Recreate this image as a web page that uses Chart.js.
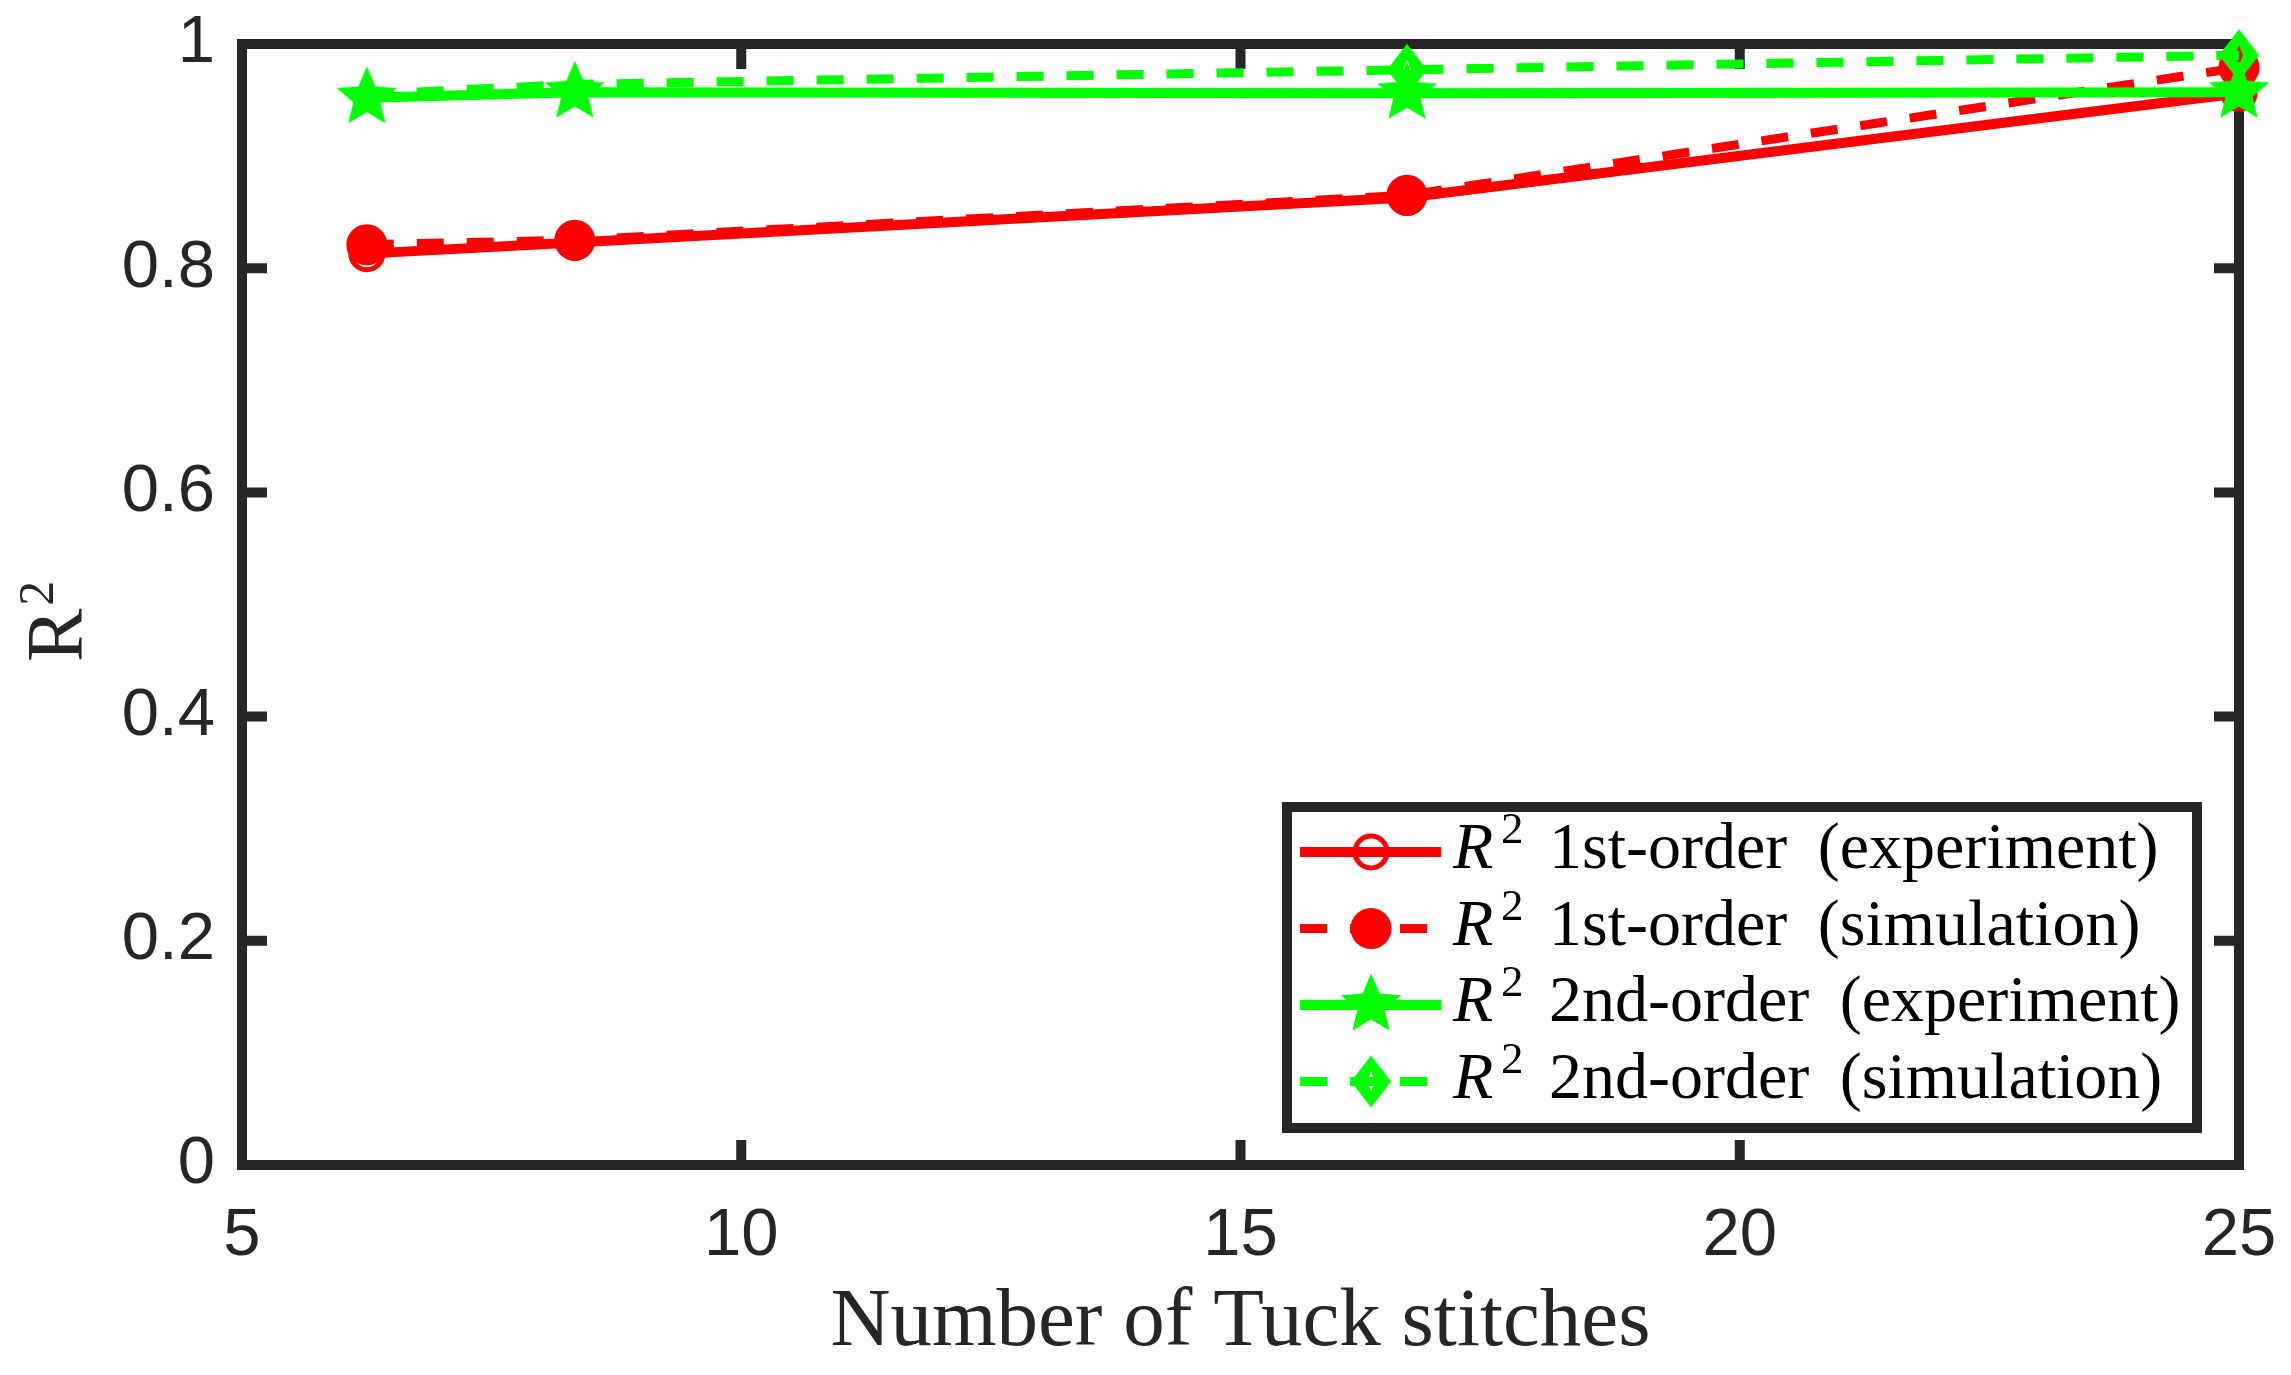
<!DOCTYPE html>
<html><head><meta charset="utf-8">
<script src="https://cdn.jsdelivr.net/npm/chart.js@4/dist/chart.umd.min.js"></script>
<style>html,body{margin:0;padding:0;background:#fff;}#wrap{width:2291px;height:1375px;position:relative;}</style>
</head><body><div id="wrap"><canvas id="c" width="2291" height="1375"></canvas></div>
<script>
// ---- data ----
const tuckStitches = [6.25, 8.333, 16.667, 25];
const r2FirstExp   = [0.813, 0.823, 0.863, 0.956];
const r2FirstSim   = [0.821, 0.825, 0.865, 0.979];
const r2SecondExp  = [0.952, 0.957, 0.956, 0.957];
const r2SecondSim  = [0.955, 0.964, 0.977, 0.990];
const seriesLabels = ['1st-order (experiment)', '1st-order (simulation)', '2nd-order (experiment)', '2nd-order (simulation)'];
const xTickValues = [5, 10, 15, 20, 25];
const yTickValues = [0, 0.2, 0.4, 0.6, 0.8, 1];
const xTitle = 'Number of Tuck stitches';
const yTitleMain = 'R';
const yTitleSup = '2';
const legendPrefix = 'R';
const legendSup = '2';

const RED = '#ff0000', GREEN = '#00ff00', AXIS = '#262626';

function makeStar(R, ratio, color) {
  const s = Math.ceil(R * 2 + 6);
  const c = document.createElement('canvas'); c.width = s; c.height = s;
  const g = c.getContext('2d');
  const cx = s / 2, cy = s / 2, r = R * ratio;
  g.beginPath();
  for (let i = 0; i < 10; i++) {
    const a = -Math.PI / 2 + i * Math.PI / 5;
    const rr = i % 2 ? r : R;
    g.lineTo(cx + rr * Math.cos(a), cy + rr * Math.sin(a));
  }
  g.closePath();
  g.fillStyle = color; g.fill();
  g.lineWidth = 2; g.strokeStyle = color; g.lineJoin = 'miter'; g.stroke();
  return c;
}
function makeDiamond(hw, hh, ihw, ihh, color) {
  const w = Math.ceil(hw * 2 + 4), h = Math.ceil(hh * 2 + 4);
  const c = document.createElement('canvas'); c.width = w; c.height = h;
  const g = c.getContext('2d');
  const cx = w / 2, cy = h / 2;
  g.beginPath();
  g.moveTo(cx, cy - hh); g.lineTo(cx + hw, cy); g.lineTo(cx, cy + hh); g.lineTo(cx - hw, cy); g.closePath();
  g.fillStyle = color; g.fill();
  g.globalCompositeOperation = 'destination-out';
  g.beginPath();
  g.moveTo(cx, cy - ihh); g.lineTo(cx + ihw, cy); g.lineTo(cx, cy + ihh); g.lineTo(cx - ihw, cy); g.closePath();
  g.fill();
  return c;
}
const starImg = makeStar(29, 0.45, GREEN);
const diamondImg = makeDiamond(20, 26, 4, 10, GREEN);

const pts = ys => tuckStitches.map((x, i) => ({ x: x, y: ys[i] }));

const datasets = [
  { label: seriesLabels[0], data: pts(r2FirstExp), borderColor: RED, borderWidth: 10,
    pointStyle: 'circle', pointRadius: 16, pointBorderWidth: 5, pointBorderColor: RED,
    pointBackgroundColor: 'rgba(0,0,0,0)', order: 4, clip: false, tension: 0 },
  { label: seriesLabels[1], data: pts(r2FirstSim), borderColor: RED, borderWidth: 9, borderDash: [27, 23],
    pointStyle: 'circle', pointRadius: 19, pointBorderWidth: 3, pointBorderColor: RED,
    pointBackgroundColor: RED, order: 3, clip: false, tension: 0 },
  { label: seriesLabels[2], data: pts(r2SecondExp), borderColor: GREEN, borderWidth: 10,
    pointStyle: starImg, pointRadius: 28, order: 2, clip: false, tension: 0 },
  { label: seriesLabels[3], data: pts(r2SecondSim), borderColor: GREEN, borderWidth: 9, borderDash: [27, 23],
    pointStyle: diamondImg, pointRadius: [0, 0, 24, 24], order: 1, clip: false, tension: 0 }
];
datasets.forEach(d => { d.borderCapStyle = 'butt'; d.borderJoinStyle = 'round'; d.fill = false; });

const framePlugin = {
  id: 'frame',
  beforeDatasetsDraw(chart) {
    const { ctx, chartArea: a, scales: { x, y } } = chart;
    ctx.save();
    ctx.strokeStyle = AXIS; ctx.lineWidth = 10; ctx.lineCap = 'butt'; ctx.lineJoin = 'miter';
    ctx.beginPath();
    const TL = 25;
    xTickValues.slice(1, -1).forEach(v => {
      const p = x.getPixelForValue(v);
      ctx.moveTo(p, a.bottom); ctx.lineTo(p, a.bottom - TL);
      ctx.moveTo(p, a.top); ctx.lineTo(p, a.top + TL);
    });
    yTickValues.slice(1, -1).forEach(v => {
      const p = y.getPixelForValue(v);
      ctx.moveTo(a.left, p); ctx.lineTo(a.left + TL, p);
      ctx.moveTo(a.right, p); ctx.lineTo(a.right - TL, p);
    });
    ctx.stroke();
    ctx.strokeRect(a.left, a.top, a.right - a.left, a.bottom - a.top);
    ctx.restore();
  }
};

function drawMarker(ctx, i, cx, cy) {
  ctx.save();
  if (i === 0) {
    ctx.beginPath(); ctx.arc(cx, cy, 16, 0, Math.PI * 2);
    ctx.lineWidth = 5; ctx.strokeStyle = RED; ctx.stroke();
  } else if (i === 1) {
    ctx.beginPath(); ctx.arc(cx, cy, 19, 0, Math.PI * 2);
    ctx.fillStyle = RED; ctx.fill(); ctx.lineWidth = 3; ctx.strokeStyle = RED; ctx.stroke();
  } else if (i === 2) {
    ctx.drawImage(starImg, cx - starImg.width / 2, cy - starImg.height / 2);
  } else {
    ctx.drawImage(diamondImg, cx - diamondImg.width / 2, cy - diamondImg.height / 2);
  }
  ctx.restore();
}

const textPlugin = {
  id: 'texts',
  afterDraw(chart) {
    const { ctx, chartArea: a } = chart;
    ctx.save();
    // x title
    ctx.fillStyle = AXIS;
    ctx.font = '83px "Liberation Serif"';
    ctx.textAlign = 'center'; ctx.textBaseline = 'alphabetic';
    ctx.fillText(xTitle, (a.left + a.right) / 2, 1345);
    // y title
    ctx.save();
    ctx.translate(82, 662);
    ctx.rotate(-Math.PI / 2);
    ctx.textAlign = 'left';
    ctx.font = '80px "Liberation Serif"';
    ctx.fillText(yTitleMain, 0, 0);
    const rw = ctx.measureText(yTitleMain).width;
    ctx.font = '50px "Liberation Serif"';
    ctx.fillText(yTitleSup, rw + 3, -29);
    ctx.restore();

    // legend
    const box = { l: 1287, t: 807, r: 2197, b: 1128 };
    ctx.fillStyle = '#fff';
    ctx.fillRect(box.l, box.t, box.r - box.l, box.b - box.t);
    ctx.strokeStyle = AXIS; ctx.lineWidth = 10; ctx.lineJoin = 'miter';
    ctx.strokeRect(box.l, box.t, box.r - box.l, box.b - box.t);
    const rowY = [852, 928.5, 1005, 1081.5];
    datasets.forEach((d, i) => {
      const yc = rowY[i];
      ctx.save();
      ctx.strokeStyle = d.borderColor; ctx.lineWidth = d.borderWidth; ctx.lineCap = 'butt';
      ctx.setLineDash(d.borderDash || []);
      ctx.beginPath(); ctx.moveTo(1300, yc); ctx.lineTo(1441, yc); ctx.stroke();
      ctx.restore();
      drawMarker(ctx, i, 1371, yc);
      const base = yc + 16;
      ctx.fillStyle = '#000';
      ctx.textAlign = 'left'; ctx.textBaseline = 'alphabetic';
      ctx.font = 'italic 66px "Liberation Serif"';
      ctx.fillText(legendPrefix, 1453, base);
      ctx.font = '45px "Liberation Serif"';
      ctx.fillText(legendSup, 1501, base - 25);
      ctx.font = '66px "Liberation Serif"';
      try { ctx.wordSpacing = '14px'; } catch (e) {}
      ctx.fillText(d.label, 1549, base);
      try { ctx.wordSpacing = '0px'; } catch (e) {}
    });
    ctx.restore();
  }
};

new Chart(document.getElementById('c'), {
  type: 'line',
  data: { datasets: datasets },
  options: {
    responsive: false, animation: false, devicePixelRatio: 1,
    events: [],
    layout: { padding: { left: 0, top: 44, right: 52, bottom: 0 } },
    plugins: { legend: { display: false }, tooltip: { enabled: false } },
    scales: {
      x: {
        type: 'linear', min: 5, max: 25,
        afterBuildTicks: s => { s.ticks = xTickValues.map(v => ({ value: v })); },
        afterFit: s => { s.height = 210; s.paddingLeft = 0; s.paddingRight = 0; s.paddingTop = 0; s.paddingBottom = 0; },
        grid: { display: false, drawTicks: false }, border: { display: false },
        ticks: { color: AXIS, font: { family: '"Liberation Sans"', size: 67 }, padding: 31,
                 maxRotation: 0, autoSkip: false, callback: v => String(v) }
      },
      y: {
        type: 'linear', min: 0, max: 1,
        afterBuildTicks: s => { s.ticks = yTickValues.map(v => ({ value: v })); },
        afterFit: s => { s.width = 242; s.paddingLeft = 0; s.paddingRight = 0; s.paddingTop = 0; s.paddingBottom = 0; },
        grid: { display: false, drawTicks: false }, border: { display: false },
        ticks: { color: AXIS, font: { family: '"Liberation Sans"', size: 67 }, padding: 27,
                 autoSkip: false, callback: v => String(Math.round(v * 10) / 10) }
      }
    }
  },
  plugins: [framePlugin, textPlugin]
});
</script>
</body></html>
